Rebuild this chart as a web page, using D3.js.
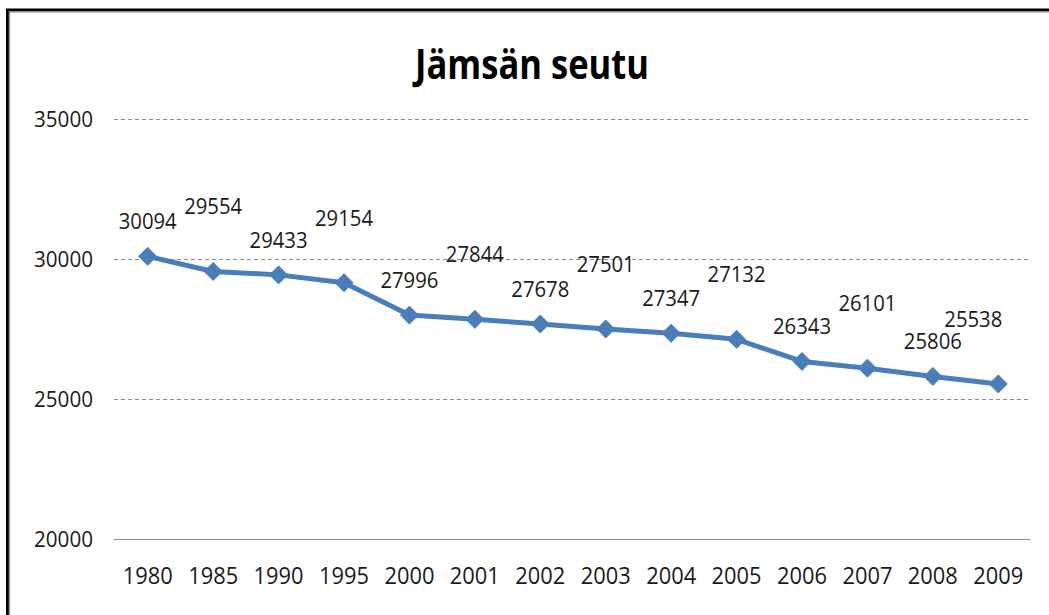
<!DOCTYPE html>
<html>
<head>
<meta charset="utf-8">
<script src="https://cdn.jsdelivr.net/npm/d3@7"></script>
<style>
  html, body { margin: 0; padding: 0; background: #fff; }
  svg { display: block; }
</style>
</head>
<body>
<svg id="chart" width="1049" height="615"></svg>
<script>
const title = "Jämsän seutu";
const years = ["1980","1985","1990","1995","2000","2001","2002","2003","2004","2005","2006","2007","2008","2009"];
const population = [30094, 29554, 29433, 29154, 27996, 27844, 27678, 27501, 27347, 27132, 26343, 26101, 25806, 25538];
const yTicks = [20000, 25000, 30000, 35000];

const svg = d3.select("#chart");
const W = 1049, H = 615;
const font = "'Open Sans', 'Noto Sans', sans-serif";

// outer frame (extends beyond the picture at right/bottom)
svg.append("rect").attr("x", 7.5).attr("y", 10).attr("width", W + 20).attr("height", H + 20)
  .attr("fill", "#fff").attr("stroke", "#000").attr("stroke-width", 3);
svg.append("path").attr("d", `M9.5,${H + 5}V12H${W + 5}`)
  .attr("fill", "none").attr("stroke", "#a0a0a0").attr("stroke-width", 1.5);

const x = d3.scaleBand().domain(years).range([115, 1031]);
const y = d3.scaleLinear().domain([20000, 35000]).range([539, 119]);

// title
svg.append("text").attr("x", 532).attr("y", 79).attr("text-anchor", "middle")
  .attr("font-family", font).attr("font-weight", "bold").attr("font-size", 41)
  .attr("textLength", 234).attr("lengthAdjust", "spacingAndGlyphs")
  .attr("fill", "#000").text(title);

// gridlines
svg.append("g").selectAll("line").data(yTicks).join("line")
  .attr("x1", 114).attr("x2", 1030)
  .attr("y1", d => Math.round(y(d)) + 0.5).attr("y2", d => Math.round(y(d)) + 0.5)
  .attr("stroke", "#8c8c8c")
  .attr("stroke-width", 1)
  .attr("stroke-dasharray", d => d === 20000 ? null : "4,3");

// y axis labels
const yAxis = d3.axisLeft(y).tickValues(yTicks).tickSize(0).tickPadding(0).tickFormat(d3.format("d"));
const gy = svg.append("g").attr("transform", "translate(93,0)").call(yAxis);
gy.select(".domain").remove();
gy.selectAll("text").attr("font-family", font).attr("font-size", 22).attr("fill", "#1a1a1a")
  .attr("dy", "0.35em").attr("textLength", 59).attr("lengthAdjust", "spacingAndGlyphs");

// x axis labels
const xAxis = d3.axisBottom(x).tickSize(0).tickPadding(0);
const gx = svg.append("g").attr("transform", "translate(0,568)").call(xAxis);
gx.select(".domain").remove();
gx.selectAll("text").attr("font-family", font).attr("font-size", 23).attr("fill", "#1a1a1a")
  .attr("dy", "0.7em").attr("textLength", 50).attr("lengthAdjust", "spacingAndGlyphs");

const cx = d => x(d) + x.bandwidth() / 2;
const pts = years.map((yr, i) => ({ yr, v: population[i], i }));

// line
svg.append("path").datum(pts)
  .attr("d", d3.line().x(d => cx(d.yr)).y(d => y(d.v)))
  .attr("fill", "none").attr("stroke", "#4a7ebb").attr("stroke-width", 5)
  .attr("stroke-linejoin", "round");

// diamond markers
svg.append("g").selectAll("path").data(pts).join("path")
  .attr("transform", d => `translate(${cx(d.yr)},${y(d.v)})`)
  .attr("d", "M0,-9L9,0L0,9L-9,0Z")
  .attr("fill", "#4a7ebb").attr("stroke", "#4a7ebb").attr("stroke-width", 1);

// data labels
svg.append("g").selectAll("text").data(pts).join("text")
  .attr("x", d => d.i === pts.length - 1 ? cx(d.yr) + 4 : cx(d.yr))
  .attr("y", d => y(d.v) - (d.i % 2 ? 57 : 27))
  .attr("text-anchor", d => d.i === pts.length - 1 ? "end" : "middle")
  .attr("font-family", font).attr("font-size", 22).attr("fill", "#1a1a1a")
  .attr("textLength", 58).attr("lengthAdjust", "spacingAndGlyphs")
  .text(d => d.v);
</script>
</body>
</html>
